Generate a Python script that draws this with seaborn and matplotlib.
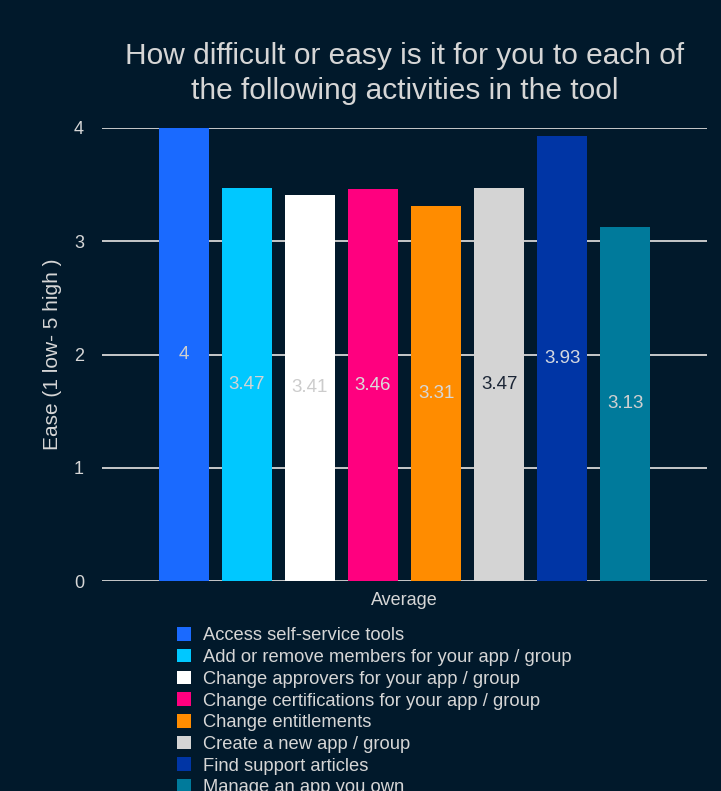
import numpy as np
import pandas as pd
import seaborn as sns
from matplotlib import pyplot as plt
from matplotlib.patches import Patch

activities = [
    'Access self-service tools',
    'Add or remove members for your app / group',
    'Change approvers for your app / group',
    'Change certifications for your app / group',
    'Change entitlements',
    'Create a new app / group',
    'Find support articles',
    'Manage an app you own',
]
ease = [4, 3.47, 3.41, 3.46, 3.31, 3.47, 3.93, 3.13]
colors = ['#1a6aff', '#00c8ff', '#ffffff', '#ff007f',
          '#ff8c00', '#d4d4d4', '#0035a5', '#007a9b']
label_colors = ['#cfcfcf', '#d4d4d4', '#cccccc', '#dcdcdc',
                '#d8d8d8', '#1b2535', '#d4d8e0', '#d0d0d0']
yticks = [0, 1, 2, 3, 4]

bg = '#01192b'
fg = '#d6d6d6'

sns.set_theme(style='dark')
plt.rcParams['font.family'] = ['Liberation Sans', 'DejaVu Sans']

df = pd.DataFrame({'group': ['Average'] * len(activities),
                   'activity': activities, 'ease': ease})

fig = plt.figure(figsize=(7.21, 7.91), dpi=100, facecolor=bg)
ax = fig.add_axes([102 / 721, 1 - 581 / 791, 605 / 721, 453 / 791])
ax.set_facecolor(bg)

sns.barplot(data=df, x='group', y='ease', hue='activity', hue_order=activities,
            palette=colors, width=0.834, gap=0.206, legend=False, ax=ax,
            saturation=1, errorbar=None, zorder=3, linewidth=0, edgecolor='none')

for i, cont in enumerate(ax.containers):
    ax.bar_label(cont, labels=[f'{ease[i]:g}'], label_type='center',
                 color=label_colors[i], fontsize=13.5)

ax.set_ylim(0, 4)
ax.set_xlim(-0.5, 0.5)
ax.set_yticks(yticks)
for y in yticks:
    ax.axhline(y, color=fg, lw=1.3, zorder=1)
ax.grid(False)
for s in ax.spines.values():
    s.set_visible(False)
ax.tick_params(axis='y', length=0, pad=13, colors=fg, labelsize=13)
ax.tick_params(axis='x', length=0, pad=8, colors=fg, labelsize=13)
ax.set_xlabel('')
ax.set_ylabel('Ease (1 low- 5 high )', color=fg, fontsize=15, labelpad=8.5)
ax.set_title('How difficult or easy is it for you to each of\nthe following activities in the tool',
             color=fg, fontsize=21.5, pad=21, linespacing=1.29)

handles = [Patch(facecolor=c, edgecolor='none') for c in colors]
fig.legend(handles, activities, loc='upper left',
           bbox_to_anchor=(170 / 721, 1 - 620 / 791), frameon=False,
           fontsize=13.2, labelcolor=fg, handlelength=0.75, handleheight=0.75,
           handletextpad=0.65, labelspacing=0.25, borderaxespad=0)

plt.savefig('out.png', dpi=100, facecolor=bg)
